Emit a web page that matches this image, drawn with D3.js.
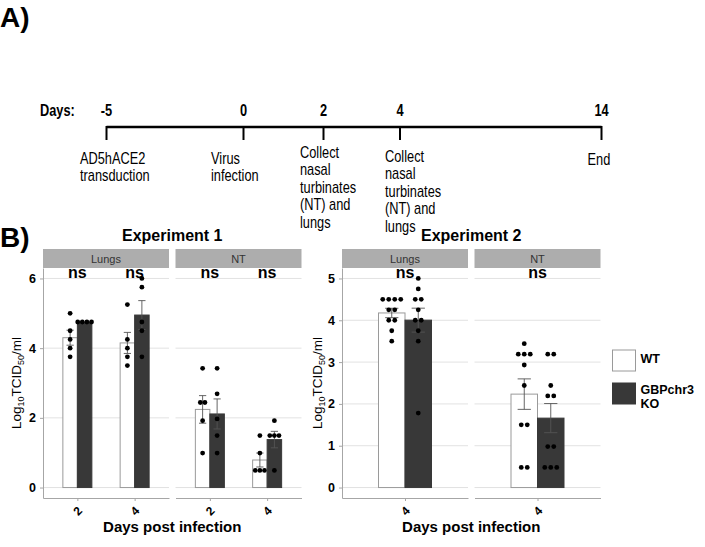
<!DOCTYPE html>
<html>
<head>
<meta charset="utf-8">
<script src="https://cdn.jsdelivr.net/npm/d3@7"></script>
<style>
  body { margin: 0; background: #fff; }
  svg { font-family: "Liberation Sans", Arial, Helvetica, sans-serif; }
</style>
</head>
<body>
<svg id="chart" width="705" height="547"></svg>
<script>
// ---------- data ----------
// A) timeline
const tlDays = [-5, 0, 2, 4, 14];
const tlLabels = [
  ["AD5hACE2", "transduction"],
  ["Virus", "infection"],
  ["Collect", "nasal", "turbinates", "(NT) and", "lungs"],
  ["Collect", "nasal", "turbinates", "(NT) and", "lungs"],
  ["End"]
];

// B) Log10 TCID50/ml per mouse, one inner array per day
const tissues = ["Lungs", "NT"];
const genotypes = ["WT", "KO"];
const legendLabels = [["WT"], ["GBPchr3", "KO"]];
const sigLabel = "ns";

const e1Days = ["2", "4"];
const e1LungsWT = [[5.0, 4.5, 4.25, 4.0, 3.75], [5.25, 4.25, 4.0, 3.75, 3.5]];
const e1LungsKO = [[4.75, 4.75, 4.75, 4.75], [6.0, 5.75, 4.75, 4.5, 3.75]];
const e1NtWT = [[3.42, 2.44, 2.44, 1.92, 0.99], [1.49, 0.99, 0.49, 0.49, 0.49]];
const e1NtKO = [[3.42, 2.69, 1.97, 1.49, 0.99], [1.92, 1.49, 1.49, 1.49, 0.49]];

const e2Days = ["4"];
const e2LungsWT = [[4.5, 4.5, 4.5, 4.5, 4.25, 4.25, 4.0, 4.0, 3.75, 3.5]];
const e2LungsKO = [[5.0, 4.75, 4.5, 4.5, 4.25, 4.0, 4.0, 3.75, 3.5, 1.78]];
const e2NtWT = [[3.44, 3.19, 3.19, 3.19, 2.93, 2.44, 1.5, 1.5, 0.48, 0.48]];
const e2NtKO = [[3.19, 3.19, 2.44, 2.19, 2.19, 0.98, 0.98, 0.48, 0.48, 0.48]];

const e1Ticks = [0, 2, 4, 6];
const e2Ticks = [0, 1, 2, 3, 4, 5];

// ---------- drawing ----------
const svg = d3.select("#chart");
const koFill = "#383838";
const axisCol = "#a6a6a6";
const narrow = 0.8; // horizontal squeeze, stands in for a condensed face

svg.append("text").attr("x", 0).attr("y", 27)
  .attr("font-size", 28).attr("font-weight", "bold").text("A)");

// timeline (schematic, not to scale)
const tl = d3.scaleLinear().domain(tlDays).range([106.5, 243.5, 323.5, 400, 601.5]);
const labelDx = [-26.5, -32.5, -23.5, -15, -14];
const labelY0 = [164, 164, 158, 162, 165];

function narrowText(parent, x, y) {
  return parent.append("g")
    .attr("transform", "translate(" + x + "," + y + ") scale(" + narrow + ",1)")
    .append("text");
}

const tg = svg.append("g");
narrowText(tg, 40, 116).attr("font-size", 16).attr("font-weight", "bold").text("Days:");
tg.append("line")
  .attr("x1", tl(tlDays[0])).attr("x2", tl(tlDays[tlDays.length - 1]))
  .attr("y1", 127).attr("y2", 127)
  .attr("stroke", "#000").attr("stroke-width", 2.5);

tlDays.forEach(function(d, i) {
  tg.append("line").attr("x1", tl(d)).attr("x2", tl(d))
    .attr("y1", 126).attr("y2", 140)
    .attr("stroke", "#000").attr("stroke-width", 2);
  narrowText(tg, tl(d), 116)
    .attr("text-anchor", "middle").attr("font-size", 16).attr("font-weight", "bold")
    .text(d);
  narrowText(tg, tl(d) + labelDx[i], labelY0[i]).attr("font-size", 16)
    .selectAll("tspan").data(tlLabels[i]).enter().append("tspan")
    .attr("x", 0)
    .attr("y", function(t, k) { return k * 17.5; })
    .text(function(t) { return t; });
});

svg.append("text").attr("x", 0).attr("y", 247)
  .attr("font-size", 28).attr("font-weight", "bold").text("B)");

// B) bar panels
const experiments = [
  { title: "Experiment 1", x0: 43, days: e1Days, ticks: e1Ticks,
    data: [[e1LungsWT, e1LungsKO], [e1NtWT, e1NtKO]], barW: 14.5, gap: 4.6, titleX: 16.5 },
  { title: "Experiment 2", x0: 342, days: e2Days, ticks: e2Ticks,
    data: [[e2LungsWT, e2LungsKO], [e2NtWT, e2NtKO]], barW: 26.5, gap: 6, titleX: 317 }
];

const pTop = 268, pBot = 498, stripH = 19, pw = 126, pGap = 6.5;

function sem(v) {
  return v.length > 1 ? d3.deviation(v) / Math.sqrt(v.length) : 0;
}

experiments.forEach(function(ex) {
  // y range padded 5% like ggplot
  let top = 0;
  ex.data.forEach(function(pd) {
    pd.forEach(function(gd) {
      gd.forEach(function(v) { top = Math.max(top, d3.max(v), d3.mean(v) + sem(v)); });
    });
  });
  const y = d3.scaleLinear().domain([-0.05 * top, top * 1.05]).range([pBot, pTop]);
  const cx = ex.x0 + pw + pGap / 2;

  svg.append("text").attr("x", cx).attr("y", 241)
    .attr("text-anchor", "middle").attr("font-size", 16).attr("font-weight", "bold")
    .text(ex.title);

  svg.append("text").attr("x", cx).attr("y", 532)
    .attr("text-anchor", "middle").attr("font-size", 15).attr("font-weight", "bold")
    .text("Days post infection");

  const yl = svg.append("text")
    .attr("transform", "translate(" + (ex.titleX + 4.5) + "," + ((pTop + pBot) / 2) + ") rotate(-90)")
    .attr("text-anchor", "middle").attr("font-size", 13.5);
  yl.append("tspan").text("Log");
  yl.append("tspan").attr("font-size", 9).attr("dy", 3).text("10");
  yl.append("tspan").attr("dy", -3).text("TCID");
  yl.append("tspan").attr("font-size", 9).attr("dy", 3).text("50");
  yl.append("tspan").attr("dy", -3).text("/ml");

  ex.data.forEach(function(pd, pi) {
    const g = svg.append("g").attr("transform", "translate(" + (ex.x0 + pi * (pw + pGap)) + ",0)");
    const x = d3.scalePoint().domain(ex.days).range([0, pw]).padding(0.6);
    const xg = d3.scaleBand().domain(genotypes).range([-ex.barW, ex.barW]);

    // strip
    g.append("rect").attr("x", 0).attr("y", pTop - stripH)
      .attr("width", pw).attr("height", stripH).attr("fill", "#adadad");
    g.append("text").attr("x", pw / 2).attr("y", pTop - 5)
      .attr("text-anchor", "middle").attr("font-size", 11).attr("fill", "#333")
      .text(tissues[pi]);

    // grid
    g.selectAll(".grid").data(ex.ticks).enter().append("line")
      .attr("x1", 0).attr("x2", pw)
      .attr("y1", function(d) { return y(d); }).attr("y2", function(d) { return y(d); })
      .attr("stroke", "#e2e2e2").attr("stroke-width", 1);

    pd.forEach(function(gd, gi) {
      const geno = genotypes[gi];
      gd.forEach(function(vals, di) {
        const m = d3.mean(vals), s = sem(vals);
        const bx = x(ex.days[di]) + xg(geno);
        const mid = bx + xg.bandwidth() / 2;

        g.append("rect").attr("x", bx).attr("y", y(m))
          .attr("width", xg.bandwidth()).attr("height", y(0) - y(m))
          .attr("fill", gi === 0 ? "#fff" : koFill)
          .attr("stroke", gi === 0 ? "#9a9a9a" : koFill).attr("stroke-width", 1);

        // error bar (mean +/- SEM)
        if (s > 0) {
          const cw = ex.barW / 4;
          const eb = g.append("g").attr("stroke", "#555").attr("stroke-width", 0.9);
          eb.append("line").attr("x1", mid).attr("x2", mid).attr("y1", y(m - s)).attr("y2", y(m + s));
          eb.append("line").attr("x1", mid - cw).attr("x2", mid + cw).attr("y1", y(m - s)).attr("y2", y(m - s));
          eb.append("line").attr("x1", mid - cw).attr("x2", mid + cw).attr("y1", y(m + s)).attr("y2", y(m + s));
        }

        // dots, equal values side by side
        const bins = d3.group(vals, function(v) { return v; });
        bins.forEach(function(list, v) {
          list.forEach(function(vv, k) {
            g.append("circle")
              .attr("cx", mid + (k - (list.length - 1) / 2) * ex.gap)
              .attr("cy", y(v)).attr("r", 2.4).attr("fill", "#000");
          });
        });
      });
    });

    // significance
    g.selectAll(".sig").data(ex.days).enter().append("text")
      .attr("x", function(d) { return x(d); }).attr("y", pTop + 9.5)
      .attr("text-anchor", "middle").attr("font-size", 16).attr("font-weight", "bold")
      .text(sigLabel);

    // x axis
    const xa = g.append("g").attr("transform", "translate(0," + pBot + ")")
      .call(d3.axisBottom(x).tickSize(3).tickSizeOuter(0));
    xa.select(".domain").attr("stroke", axisCol);
    xa.selectAll(".tick line").attr("stroke", axisCol);
    xa.selectAll(".tick text")
      .attr("y", null).attr("dy", null)
      .attr("transform", "translate(0,13) rotate(-45)")
      .attr("text-anchor", "middle").attr("dominant-baseline", "central")
      .attr("font-size", 12).attr("font-weight", "bold").attr("fill", "#000")
      .attr("font-family", "Liberation Sans, Arial, sans-serif");

    if (pi === 0) {
      const ya = g.append("g")
        .call(d3.axisLeft(y).tickValues(ex.ticks).tickFormat(d3.format("d"))
          .tickSize(3).tickPadding(4).tickSizeOuter(0));
      ya.select(".domain").attr("stroke", axisCol);
      ya.selectAll(".tick line").attr("stroke", axisCol);
      ya.selectAll(".tick text").attr("font-size", 12.5).attr("font-weight", "bold")
        .attr("fill", "#000").attr("font-family", "Liberation Sans, Arial, sans-serif");
    }
  });
});

// legend
const lg = svg.append("g").attr("transform", "translate(612.5,350)");
genotypes.forEach(function(gname, i) {
  lg.append("rect").attr("x", 0).attr("y", i * 33)
    .attr("width", 23).attr("height", 21)
    .attr("fill", i === 0 ? "#fff" : koFill)
    .attr("stroke", i === 0 ? "#9a9a9a" : koFill);
  lg.append("text").attr("font-size", 12.5).attr("font-weight", "bold")
    .selectAll("tspan").data(legendLabels[i]).enter().append("tspan")
    .attr("x", 28)
    .attr("y", function(t, k) { return (i === 0 ? 13 : 44) + k * 14; })
    .text(function(t) { return t; });
});
</script>
</body>
</html>
